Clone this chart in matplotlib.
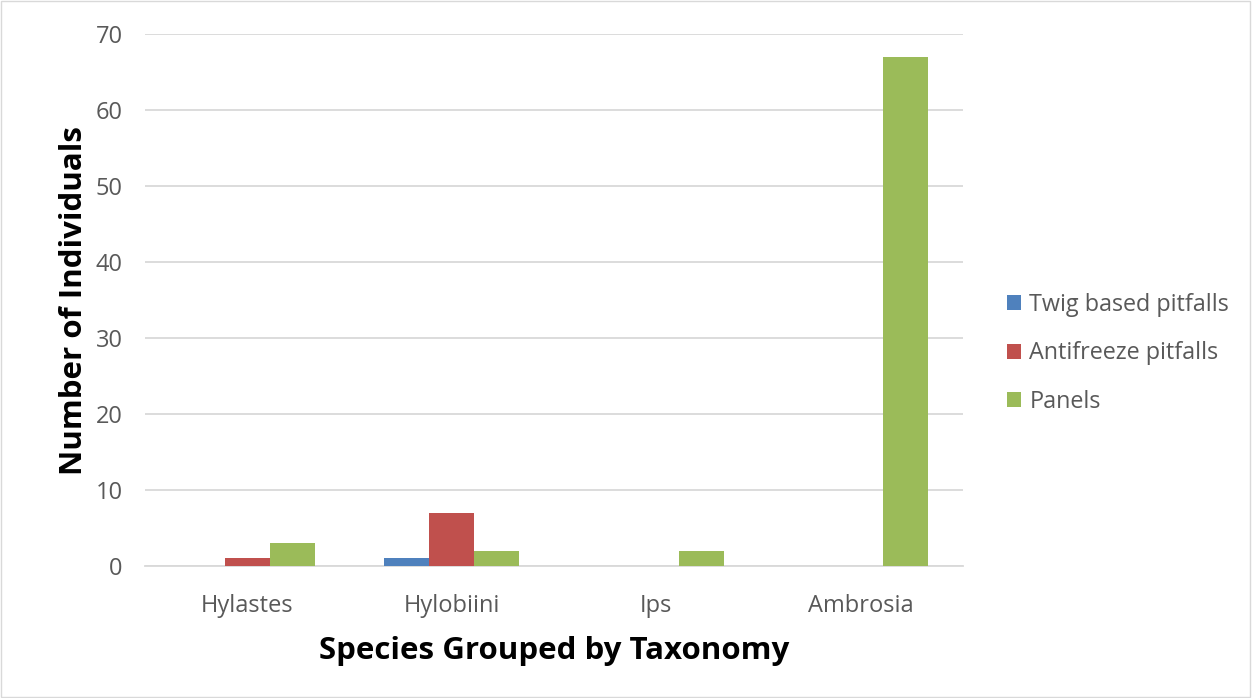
import matplotlib.pyplot as plt
import numpy as np

plt.rcParams['font.family'] = ['Open Sans', 'DejaVu Sans']

categories = ["Hylastes", "Hylobiini", "Ips", "Ambrosia"]
series_names = ["Twig based pitfalls", "Antifreeze pitfalls", "Panels"]
twig = [0, 1, 0, 0]
antifreeze = [1, 7, 0, 0]
panels = [3, 2, 2, 67]
colors = ["#4f81bd", "#c0504d", "#9bbb59"]

fig = plt.figure(figsize=(12.53, 6.98), dpi=100)
ax = fig.add_axes([0.1157, 0.189, 0.653, 0.762])

x = np.arange(len(categories))
w = 0.22
for i, (vals, name) in enumerate(zip([twig, antifreeze, panels], series_names)):
    ax.bar(x + (i - 1) * w, vals, w, color=colors[i], label=name, zorder=3)

ax.set_xlim(-0.5, 3.5)
ax.set_ylim(0, 70)
ax.set_yticks(range(0, 71, 10))
ax.set_xticks(x)
ax.set_xticklabels(categories)
ax.grid(axis='y', color='#d9d9d9', linewidth=1.3, zorder=0)
for s in ['top', 'right', 'left']:
    ax.spines[s].set_visible(False)
ax.spines['bottom'].set_color('#d9d9d9')
ax.spines['bottom'].set_linewidth(1.3)
ax.tick_params(axis='both', length=0, labelsize=17, colors='#595959')
ax.tick_params(axis='y', pad=16)
ax.tick_params(axis='x', pad=20)

ax.set_ylabel("Number of Individuals", fontsize=22.5, fontweight='bold', labelpad=5)
ax.set_xlabel("Species Grouped by Taxonomy", fontsize=22.5, fontweight='bold', labelpad=13)

leg = ax.legend(loc='center left', bbox_to_anchor=(1.028, 0.40), frameon=False,
                fontsize=16.8, labelcolor='#595959', handlelength=0.6, handleheight=0.6,
                labelspacing=1.05, handletextpad=0.35)

fig.patches.append(plt.Rectangle((0.001, 0.001), 0.997, 0.997, transform=fig.transFigure,
                                 fill=False, edgecolor='#d9d9d9', linewidth=1))
fig.savefig("out.png", dpi=100)
